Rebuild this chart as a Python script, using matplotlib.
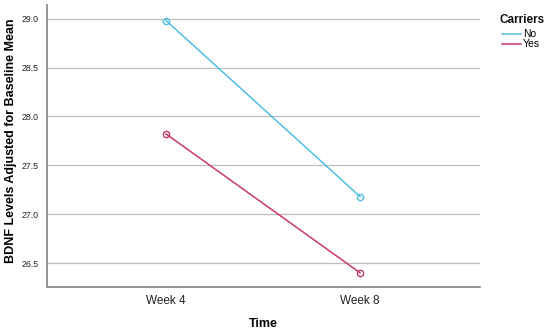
import matplotlib
matplotlib.use('Agg')
import numpy as np
import matplotlib.pyplot as plt

plt.rcParams['font.family'] = ['Liberation Sans', 'DejaVu Sans']

# data
weeks = ['Week 4', 'Week 8']
carriers_no = [28.98, 27.18]
carriers_yes = [27.82, 26.40]
y_ticks = [26.5, 27.0, 27.5, 28.0, 28.5, 29.0]

fig = plt.figure(figsize=(5.5, 3.33), dpi=100)
ax = fig.add_axes([0.0855, 0.138, 0.787, 0.847])

x = np.arange(len(weeks))
ax.plot(x, carriers_no, color='#4fbfe6', lw=1.1, marker='o', ms=4.5,
        mfc='none', mec='#4fbfe6', mew=1.0, label='No')
ax.plot(x, carriers_yes, color='#c93a62', lw=1.1, marker='o', ms=4.5,
        mfc='none', mec='#c93a62', mew=1.0, label='Yes')

ax.set_xlim(-0.614, 1.618)
ax.set_ylim(26.254, 29.14)
ax.set_xticks(x)
ax.set_xticklabels(weeks, fontsize=8.5, color='#222222')
ax.set_yticks(y_ticks)
ax.set_yticklabels([f'{v:.1f}' for v in y_ticks], fontsize=6.3, color='#222222')
ax.tick_params(length=0, pad=6)

ax.grid(axis='y', color='#bdbdbd', lw=0.9)
ax.set_axisbelow(True)
for s in ['top', 'right']:
    ax.spines[s].set_visible(False)
for s in ['left', 'bottom']:
    ax.spines[s].set_color('#8c8c8c')
    ax.spines[s].set_linewidth(1.3)

ax.set_xlabel('Time', fontsize=9, fontweight='bold', labelpad=8)
ax.set_ylabel('BDNF Levels Adjusted for Baseline Mean', fontsize=9,
              fontweight='bold')
ax.yaxis.set_label_coords(-0.07, 0.518)

# legend title drawn separately so its gap to the entries matches
fig.text(0.909, 0.94, 'Carriers', fontsize=8.5, fontweight='bold',
         ha='left', va='center', color='#111111')
leg = fig.legend(loc='upper left', bbox_to_anchor=(0.912, 0.912),
                 frameon=False, fontsize=7.5,
                 handlelength=1.9, handletextpad=0.15, labelspacing=0.0,
                 borderaxespad=0.0, borderpad=0.0)
for h in leg.legend_handles:
    h.set_marker('')

fig.savefig('out.png', dpi=100)
